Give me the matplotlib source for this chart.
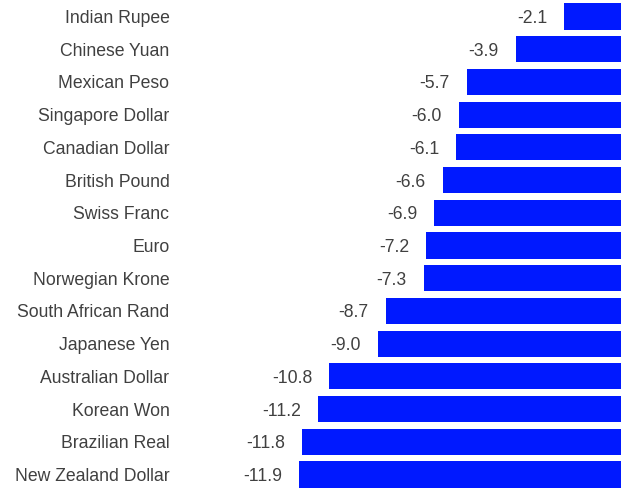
import matplotlib
matplotlib.use("Agg")
import matplotlib.pyplot as plt

currencies = ["Indian Rupee", "Chinese Yuan", "Mexican Peso", "Singapore Dollar",
              "Canadian Dollar", "British Pound", "Swiss Franc", "Euro",
              "Norwegian Krone", "South African Rand", "Japanese Yen",
              "Australian Dollar", "Korean Won", "Brazilian Real", "New Zealand Dollar"]
changes = [-2.1, -3.9, -5.7, -6.0, -6.1, -6.6, -6.9, -7.2, -7.3, -8.7, -9.0,
           -10.8, -11.2, -11.8, -11.9]

plt.rcParams['font.family'] = ['Liberation Sans', 'DejaVu Sans']

fig = plt.figure(figsize=(6.29, 4.90), dpi=100)
ax = fig.add_axes([175 / 629, 0, 446 / 629, 1])

pos = list(range(len(currencies)))
ax.barh(pos, changes, height=0.8, color='#0019FF')

for p, v in zip(pos, changes):
    ax.annotate(f"{v:.1f}", xy=(v, p), xytext=(-17, 0), textcoords='offset pixels',
                ha='right', va='center_baseline', fontsize=12.7, color='#404040')

ax.set_xlim(-16.5, 0)
ax.set_ylim(14.474, -0.504)
ax.set_yticks(pos)
ax.set_yticklabels(currencies, fontsize=12.7, color='#404040', va='center_baseline')
ax.tick_params(axis='y', length=0, pad=4)
ax.set_xticks([])
for s in ax.spines.values():
    s.set_visible(False)

fig.savefig("out.png", dpi=100)
